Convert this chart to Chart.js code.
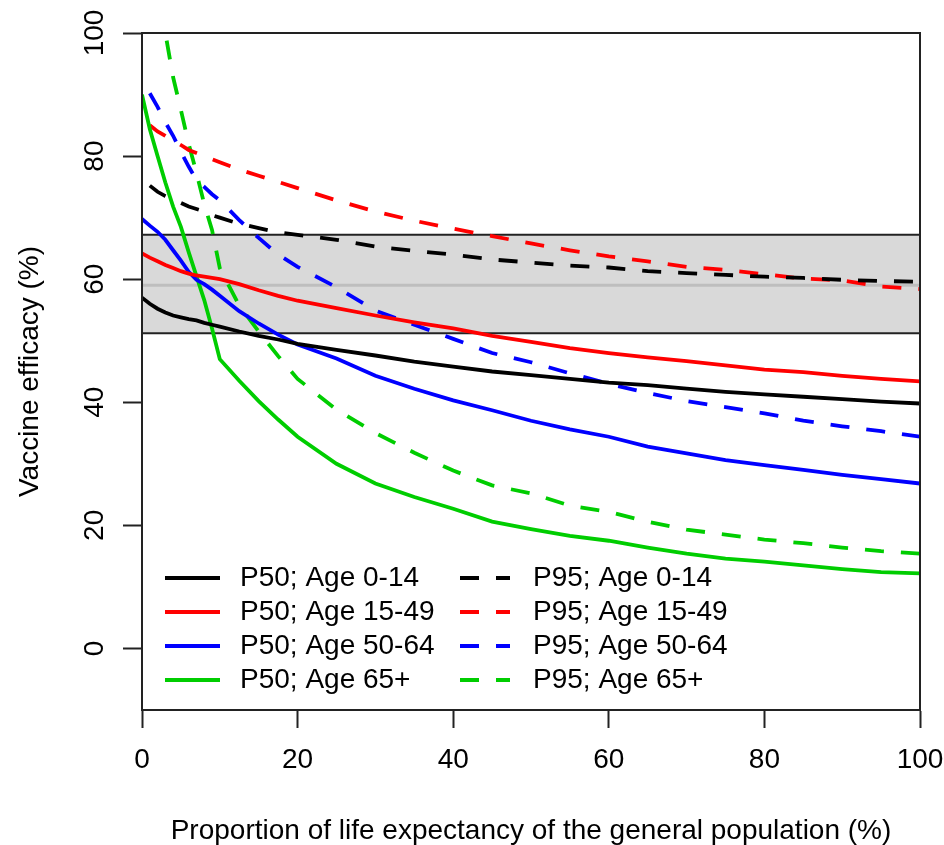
<!DOCTYPE html>
<html>
<head>
<meta charset="utf-8">
<script src="https://cdn.jsdelivr.net/npm/chart.js@4/dist/chart.umd.min.js"></script>
<style>
  html, body { margin: 0; padding: 0; background: #ffffff; }
  #wrap { width: 944px; height: 845px; position: relative; }
</style>
</head>
<body>
<div id="wrap"><canvas id="chart" width="944" height="845"></canvas></div>
<script>
// Proportion of life expectancy of the general population (%)
const xGrid = [0, 1, 2, 3, 4, 5, 6, 7, 8, 9, 10, 12.5, 15, 17.5, 20, 25, 30, 35, 40, 45, 50, 55, 60, 65, 70, 75, 80, 85, 90, 95, 100];

// Vaccine efficacy (%), median (P50) and 95th percentile (P95) by age group
const p50Age0_14 = [57, 56, 55.2, 54.6, 54.1, 53.8, 53.5, 53.3, 52.9, 52.6, 52.3, 51.5, 50.8, 50.2, 49.5, 48.5, 47.6, 46.6, 45.8, 45, 44.4, 43.8, 43.2, 42.8, 42.2, 41.7, 41.3, 40.9, 40.5, 40.1, 39.8];
const p50Age15_49 = [64.2, 63.5, 62.9, 62.3, 61.8, 61.3, 60.9, 60.6, 60.4, 60.2, 60, 59.2, 58.2, 57.3, 56.5, 55.3, 54.1, 53, 52, 50.8, 49.8, 48.8, 48, 47.3, 46.7, 46, 45.3, 44.9, 44.3, 43.8, 43.4];
const p50Age50_64 = [69.8, 68.7, 67.7, 66.4, 64.7, 63, 61.2, 59.9, 59.2, 58.3, 57.3, 54.8, 52.8, 51, 49.4, 47.1, 44.3, 42.2, 40.3, 38.7, 37, 35.6, 34.4, 32.8, 31.7, 30.6, 29.8, 29, 28.2, 27.5, 26.8];
const p50Age65 = [90, 84.4, 80, 75.7, 71.8, 68.5, 64.4, 60.5, 56.6, 52, 47, 43.5, 40.2, 37.2, 34.4, 30, 26.8, 24.6, 22.7, 20.6, 19.4, 18.3, 17.5, 16.4, 15.4, 14.6, 14.1, 13.5, 12.9, 12.4, 12.2];
const p95Age0_14 = [null, 75.2, 74.2, 73.5, 72.9, 72.4, 71.8, 71.4, 71, 70.4, 70, 69, 68.3, 67.6, 67.2, 66.4, 65.3, 64.6, 64, 63.2, 62.7, 62.2, 61.9, 61.3, 61, 60.7, 60.4, 60.2, 59.9, 59.7, 59.6];
const p95Age15_49 = [null, 85, 84, 83.3, 82.5, 81.8, 81, 80.5, 80, 79.5, 79, 77.8, 76.8, 75.8, 74.8, 72.8, 71, 69.5, 68.2, 67, 65.8, 64.7, 63.7, 62.9, 62, 61.5, 60.8, 60.1, 59.8, 58.8, 58.4];
const p95Age50_64 = [null, 90.2, 88, 85.5, 83.3, 80.7, 78.3, 76.1, 75, 73.8, 72.8, 69.6, 66.7, 64, 62, 58.7, 54.9, 52.6, 50.3, 48, 46.5, 44.7, 43, 41.5, 40.2, 39.2, 38.2, 37, 36.1, 35.3, 34.4];
const p95Age65 = [null, 122, 110, 100, 92.8, 87.5, 82, 77.3, 72.2, 68, 61.8, 55.7, 51.5, 47.5, 43.8, 38.8, 35, 31.8, 28.9, 26.5, 25.2, 23.2, 22.2, 20.6, 19.3, 18.5, 17.7, 17.1, 16.4, 15.8, 15.4];

// Reference band of observed efficacy: lower bound, point estimate, upper bound
const bandLow = 51.2;
const bandMid = 59.0;
const bandHigh = 67.2;
const bandX = [0, 100];

const xTicks = [0, 20, 40, 60, 80, 100];
const yTicks = [0, 20, 40, 60, 80, 100];

const seriesLabels = ['P50; Age 0-14', 'P50; Age 15-49', 'P50; Age 50-64', 'P50; Age 65+',
                      'P95; Age 0-14', 'P95; Age 15-49', 'P95; Age 50-64', 'P95; Age 65+'];
const seriesValues = [p50Age0_14, p50Age15_49, p50Age50_64, p50Age65,
                      p95Age0_14, p95Age15_49, p95Age50_64, p95Age65];
const seriesColors = ['#000000', '#ff0000', '#0000ff', '#00cd00',
                      '#000000', '#ff0000', '#0000ff', '#00cd00'];

const FONT = "'Liberation Sans', Arial, sans-serif";
const FONT_SIZE = 28;
const DASH = [19, 17];
const LINE_W = 3.8;

function toPoints(values) {
  return xGrid.map((x, i) => ({ x: x, y: values[i] }));
}

const curveSets = seriesValues.map((vals, i) => ({
  label: seriesLabels[i],
  data: toPoints(vals),
  borderColor: seriesColors[i],
  backgroundColor: seriesColors[i],
  borderWidth: LINE_W,
  borderDash: i >= 4 ? DASH : [],
  borderCapStyle: 'butt',
  borderJoinStyle: 'miter',
  pointRadius: 0,
  fill: false,
  tension: 0,
  order: 1
}));

const bandSets = [
  {
    label: 'band-high',
    data: bandX.map(x => ({ x: x, y: bandHigh })),
    borderColor: '#222222', borderWidth: 2, pointRadius: 0,
    backgroundColor: '#d9d9d9', fill: '+1', order: 20, legendSkip: true
  },
  {
    label: 'band-low',
    data: bandX.map(x => ({ x: x, y: bandLow })),
    borderColor: '#222222', borderWidth: 2, pointRadius: 0,
    fill: false, order: 19, legendSkip: true
  },
  {
    label: 'band-mid',
    data: bandX.map(x => ({ x: x, y: bandMid })),
    borderColor: '#bebebe', borderWidth: 3, pointRadius: 0,
    fill: false, order: 18, legendSkip: true
  }
];

// Frame around the plotting region
const boxPlugin = {
  id: 'plotBox',
  afterDatasetsDraw(chart) {
    const { ctx, chartArea: a } = chart;
    ctx.save();
    ctx.strokeStyle = '#222222';
    ctx.lineWidth = 2;
    ctx.strokeRect(a.left, a.top, a.right - a.left, a.bottom - a.top);
    ctx.restore();
  }
};

// Two-column legend placed in the lower-left of the plotting region
const legendPlugin = {
  id: 'insetLegend',
  afterDraw(chart) {
    const { ctx, chartArea: a } = chart;
    const items = chart.data.datasets.filter(d => !d.legendSkip);
    const rowH = 34;
    const top = a.bottom - 132;
    const cols = [
      { lineX0: a.left + 23, lineX1: a.left + 78, textX: a.left + 98 },
      { lineX0: a.left + 318, lineX1: a.left + 368, textX: a.left + 391 }
    ];
    ctx.save();
    ctx.font = FONT_SIZE + 'px ' + FONT;
    ctx.textBaseline = 'middle';
    ctx.textAlign = 'left';
    items.forEach((d, i) => {
      const c = cols[Math.floor(i / 4)];
      const y = top + (i % 4) * rowH;
      ctx.strokeStyle = d.borderColor;
      ctx.lineWidth = LINE_W;
      ctx.lineCap = 'butt';
      ctx.setLineDash(d.borderDash || []);
      ctx.beginPath();
      ctx.moveTo(c.lineX0, y);
      ctx.lineTo(c.lineX1, y);
      ctx.stroke();
      ctx.setLineDash([]);
      ctx.fillStyle = '#000000';
      ctx.fillText(d.label, c.textX, y);
    });
    ctx.restore();
  }
};

new Chart(document.getElementById('chart'), {
  type: 'line',
  data: { datasets: curveSets.concat(bandSets) },
  options: {
    responsive: false,
    animation: false,
    devicePixelRatio: 1,
    layout: { padding: { top: 33, right: 24, left: 0, bottom: 0 } },
    plugins: {
      legend: { display: false },
      tooltip: { enabled: false },
      title: { display: false }
    },
    scales: {
      x: {
        type: 'linear',
        min: 0, max: 100,
        afterBuildTicks: s => { s.ticks = xTicks.map(v => ({ value: v })); },
        afterFit: s => { s.height = 135; s.paddingLeft = 0; s.paddingRight = 0; },
        grid: { display: true, drawOnChartArea: false, drawTicks: true, tickLength: 18, tickColor: '#222222', tickWidth: 2 },
        border: { display: true, color: '#222222', width: 2 },
        ticks: { color: '#000000', font: { family: FONT, size: FONT_SIZE }, padding: 15, maxRotation: 0, autoSkip: false },
        title: { display: true, text: 'Proportion of life expectancy of the general population (%)', color: '#000000', font: { family: FONT, size: FONT_SIZE, lineHeight: 1.0 }, padding: { top: 0, bottom: 0 } }
      },
      y: {
        type: 'linear',
        min: -10, max: 100,
        afterBuildTicks: s => { s.ticks = yTicks.map(v => ({ value: v })); },
        afterFit: s => { s.width = 142; s.paddingTop = 0; s.paddingBottom = 0; },
        grid: { display: true, drawOnChartArea: false, drawTicks: true, tickLength: 19, tickColor: '#222222', tickWidth: 2 },
        border: { display: true, color: '#222222', width: 2 },
        ticks: { color: '#000000', font: { family: FONT, size: FONT_SIZE }, padding: 4, minRotation: 90, maxRotation: 90, crossAlign: 'center', autoSkip: false },
        title: { display: true, text: 'Vaccine efficacy (%)', color: '#000000', font: { family: FONT, size: FONT_SIZE }, padding: { top: 13, bottom: 0 } }
      }
    }
  },
  plugins: [boxPlugin, legendPlugin]
});
</script>
</body>
</html>
